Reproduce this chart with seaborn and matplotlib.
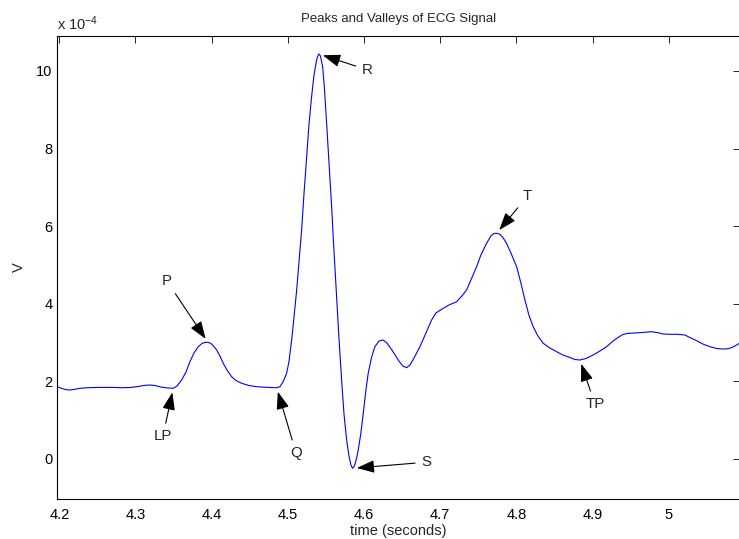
import matplotlib
matplotlib.use("Agg")
import matplotlib.pyplot as plt
import matplotlib.ticker as mticker
import numpy as np
import pandas as pd
import seaborn as sns

# ECG trace, time in seconds, amplitude in units of 1e-4 V
time_s = [
    4.1974, 4.2035, 4.2088, 4.2140, 4.2206, 4.2272, 4.2377, 4.2534, 4.2692,
    4.2823, 4.2928, 4.3033, 4.3125, 4.3190, 4.3256, 4.3348, 4.3427, 4.3496,
    4.3545, 4.3606, 4.3663, 4.3715, 4.3768, 4.3824, 4.3873, 4.3912, 4.3951,
    4.3991, 4.4030, 4.4066, 4.4109, 4.4152, 4.4201, 4.4262, 4.4319, 4.4394,
    4.4490, 4.4591, 4.4713, 4.4853, 4.4896, 4.4936, 4.4984, 4.5014, 4.5050,
    4.5080, 4.5116, 4.5146, 4.5181, 4.5211, 4.5247, 4.5277, 4.5312, 4.5342,
    4.5369, 4.5388, 4.5408, 4.5428, 4.5457, 4.5480, 4.5509, 4.5539, 4.5575,
    4.5605, 4.5640, 4.5671, 4.5706, 4.5736, 4.5772, 4.5802, 4.5828, 4.5850,
    4.5874, 4.5900, 4.5924, 4.5959, 4.5990, 4.6025, 4.6055, 4.6100, 4.6143,
    4.6196, 4.6252, 4.6301, 4.6366, 4.6458, 4.6510, 4.6559, 4.6602, 4.6642,
    4.6734, 4.6812, 4.6887, 4.6944, 4.7018, 4.7114, 4.7215, 4.7285, 4.7346,
    4.7403, 4.7478, 4.7534, 4.7609, 4.7665, 4.7705, 4.7740, 4.7777, 4.7823,
    4.7871, 4.7928, 4.8003, 4.8059, 4.8112, 4.8164, 4.8220, 4.8282, 4.8352,
    4.8440, 4.8528, 4.8610, 4.8702, 4.8768, 4.8833, 4.8912, 4.9008, 4.9096,
    4.9184, 4.9253, 4.9336, 4.9398, 4.9467, 4.9621, 4.9774, 4.9844, 4.9927,
    5.0014, 5.0102, 5.0211, 5.0277, 5.0365, 5.0448, 5.0539, 5.0631, 5.0714,
    5.0776, 5.0824, 5.0867, 5.0911, 5.0946,
]
volts_e4 = [
    1.857, 1.811, 1.780, 1.772, 1.790, 1.816, 1.831, 1.839, 1.839,
    1.831, 1.836, 1.862, 1.893, 1.901, 1.888, 1.842, 1.824, 1.816,
    1.875, 2.030, 2.236, 2.502, 2.726, 2.889, 2.971, 3.000, 3.002,
    2.971, 2.894, 2.804, 2.649, 2.461, 2.288, 2.115, 2.017, 1.945,
    1.888, 1.857, 1.842, 1.831, 1.857, 1.978, 2.203, 2.494, 3.062,
    3.629, 4.351, 5.073, 5.899, 6.802, 7.789, 8.607, 9.337, 9.871,
    10.198, 10.361, 10.438, 10.387, 10.111, 9.561, 8.651, 7.653, 6.500,
    5.383, 4.178, 3.113, 2.030, 1.179, 0.482, 0.070, -0.162, -0.248,
    -0.188, -0.008, 0.224, 0.663, 1.171, 1.772, 2.203, 2.623, 2.889,
    3.036, 3.062, 2.984, 2.804, 2.520, 2.391, 2.347, 2.417, 2.546,
    2.889, 3.242, 3.577, 3.758, 3.853, 3.964, 4.049, 4.197, 4.351,
    4.609, 4.952, 5.254, 5.556, 5.744, 5.809, 5.814, 5.796, 5.705,
    5.556, 5.306, 4.952, 4.532, 4.093, 3.706, 3.405, 3.165, 2.977,
    2.855, 2.760, 2.675, 2.610, 2.559, 2.546, 2.584, 2.675, 2.778,
    2.889, 3.010, 3.131, 3.203, 3.234, 3.250, 3.276, 3.255, 3.216,
    3.209, 3.209, 3.191, 3.126, 3.044, 2.958, 2.889, 2.842, 2.829,
    2.837, 2.863, 2.907, 2.958, 3.000,
]

# Marked peaks and valleys: time of the marked sample and label placement
mark_labels = ["P", "LP", "Q", "R", "S", "T", "TP"]
mark_time = [4.3951, 4.3496, 4.4853, 4.5408, 4.5850, 4.7740, 4.8833]
label_t = [4.3413, 4.3360, 4.5108, 4.6040, 4.6815, 4.8145, 4.9031]
label_v = [4.58, 0.58, 0.15, 10.03, -0.09, 6.77, 1.41]

SCALE = 1e-4
t_arr = np.array(time_s)
v_arr = np.array(volts_e4) * SCALE
df = pd.DataFrame({"t": t_arr, "v": v_arr})

sns.set_theme(style="white")
plt.rcParams["font.family"] = ["Liberation Sans", "DejaVu Sans"]
plt.rcParams["mathtext.fontset"] = "custom"
plt.rcParams["mathtext.rm"] = "Liberation Sans"
plt.rcParams["mathtext.it"] = "Liberation Sans"

W, H = 739, 539
fig = plt.figure(figsize=(W / 100, H / 100), dpi=100)
ax = fig.add_axes([57.3 / W, 1 - 499.3 / H, (740 - 57.3) / W, (499.3 - 35.7) / H])

sns.lineplot(data=df, x="t", y="v", ax=ax, color=(0, 0, 1), linewidth=0.8,
             estimator=None, sort=False)

ax.set_xlim(4.1974, 5.0935)
ax.set_ylim(-1.047 * SCALE, 10.91 * SCALE)
ax.set_xticks(np.round(np.arange(4.2, 5.01, 0.1), 1))
ax.xaxis.set_major_formatter(mticker.FuncFormatter(lambda x, _: f"{x:g}"))
ax.set_yticks(np.arange(0, 11, 2) * SCALE)
ax.yaxis.set_major_formatter(mticker.FuncFormatter(lambda y, _: f"{y / SCALE:.0f}"))

for s in ax.spines.values():
    s.set_color("black")
    s.set_linewidth(0.8)
ax.tick_params(direction="in", length=5, width=0.6, colors="black",
               labelsize=10.5, top=True, right=True)
ax.tick_params(axis="x", pad=6)
ax.tick_params(axis="y", pad=3.5)

ax.set_title("Peaks and Valleys of ECG Signal", fontsize=9.5, pad=10)
ax.set_xlabel("time (seconds)", fontsize=10.5, labelpad=2)
ax.set_ylabel("V", fontsize=10.5, labelpad=7)
ax.text(0.0, 1.006, r"x 10$^{-4}$", transform=ax.transAxes, fontsize=10.5,
        ha="left", va="bottom")

for lab, mt, lt, lv in zip(mark_labels, mark_time, label_t, label_v):
    i = int(np.argmin(np.abs(t_arr - mt)))
    ax.annotate(lab, xy=(t_arr[i], v_arr[i]),
                xytext=(lt, lv * SCALE), fontsize=10.8, ha="center", va="center",
                arrowprops=dict(arrowstyle="-|>,head_length=1.0,head_width=0.36",
                                color="black", lw=0.8, shrinkA=2, shrinkB=3))

fig.savefig("out.png", dpi=100)
